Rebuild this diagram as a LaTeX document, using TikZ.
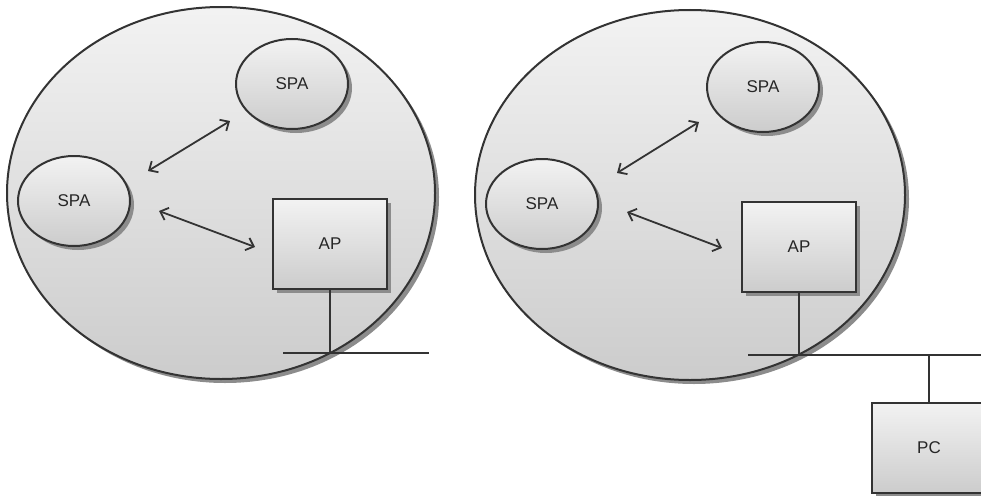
\documentclass[tikz,border=0pt]{standalone}
\usepackage{fontspec}
\setmainfont{Liberation Sans}
\usetikzlibrary{shapes.geometric,shadows,arrows.meta}
\begin{document}
\begin{tikzpicture}[x=1pt,y=-1pt,
 every node/.style={font=\fontsize{17}{20}\selectfont, text=black!85},
 ln/.style={draw=black!80, line width=2pt},
 grad/.style={top color=black!5, bottom color=black!20},
 shad/.style={drop shadow={shadow xshift=4pt, shadow yshift=-4pt, fill=black!45, opacity=1}},
 cell/.style={ellipse, ln, grad, shad, inner sep=0, minimum width=112pt, minimum height=90pt},
 big/.style={ellipse, ln, grad, shad, inner sep=0},
 box/.style={rectangle, ln, grad, shad, inner sep=0, minimum width=114pt, minimum height=90pt},
 arr/.style={draw=black!80, line width=1.8pt, {Straight Barb[length=7pt,width=13pt]}-{Straight Barb[length=7pt,width=13pt]}},
 wire/.style={draw=black!80, line width=2pt}
]
\clip (0,0) rectangle (981,495);
% left group
\node[big, minimum width=428pt, minimum height=372pt] (cellL) at (221,193) {};
\node[cell] (spaLT) at (292,84) {SPA};
\node[cell] (spaLL) at (74,201) {SPA};
\node[box] (apL) at (330,244) {AP};
\coordinate (a1s) at (148,171);
\coordinate (a1e) at (230,121);
\coordinate (a2s) at (159,211);
\coordinate (a2e) at (255,247);
\draw[arr] (a1s) -- (a1e);
\draw[arr] (a2s) -- (a2e);
\coordinate (busLa) at (283,353);
\coordinate (busLb) at (429,353);
\coordinate (busLj) at (apL.south |- busLa);
\draw[wire] (busLa) -- (busLb);
\draw[wire] (apL.south) -- (busLj);
% right group
\node[big, minimum width=430pt, minimum height=370pt] (cellR) at (690,195) {};
\node[cell] (spaRT) at (763,87) {SPA};
\node[cell] (spaRL) at (542,204) {SPA};
\node[box] (apR) at (799,247) {AP};
\coordinate (b1s) at (617,173);
\coordinate (b1e) at (699,122);
\coordinate (b2s) at (627,212);
\coordinate (b2e) at (722,248);
\draw[arr] (b1s) -- (b1e);
\draw[arr] (b2s) -- (b2e);
\node[box] (pc) at (929,448) {PC};
\coordinate (busRa) at (748,355);
\coordinate (busRb) at (983,355);
\coordinate (busRj) at (apR.south |- busRa);
\coordinate (busRp) at (pc.north |- busRa);
\draw[wire] (busRa) -- (busRb);
\draw[wire] (apR.south) -- (busRj);
\draw[wire] (pc.north) -- (busRp);
\end{tikzpicture}
\end{document}
